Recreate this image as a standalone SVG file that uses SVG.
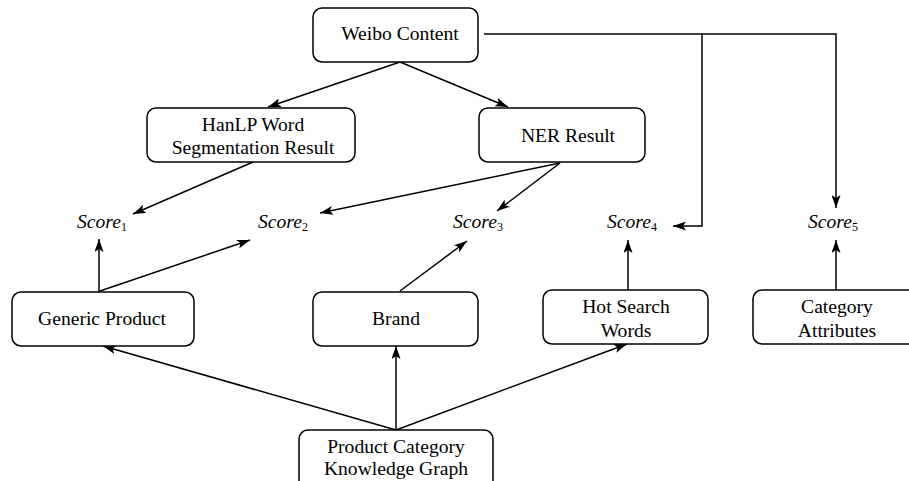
<svg xmlns="http://www.w3.org/2000/svg" width="909" height="481" viewBox="0 0 909 481">
  <style>
    .box { fill: #fff; stroke: #000; stroke-width: 1.5; }
    .lbl { font-family: "Liberation Serif", "Times New Roman", serif; font-size: 19.6px; fill: #000; text-anchor: middle; }
    .score { font-family: "Liberation Serif", "Times New Roman", serif; font-size: 19.6px; font-style: italic; fill: #000; }
    .sub { font-size: 12px; font-style: normal; }
    .edge { fill: none; stroke: #000; stroke-width: 1.5; }
  </style>
  <defs>
    <marker id="arrow" viewBox="0 0 13 9" refX="13" refY="4.5" markerWidth="13" markerHeight="9" markerUnits="userSpaceOnUse" orient="auto">
      <path d="M0,0 L13,4.5 L0,9 L3,4.5 Z" fill="#000"/>
    </marker>
  </defs>
  <rect width="909" height="481" fill="#fff"/>

  <!-- connectors -->
  <g id="connectors">
    <line class="edge" x1="400" y1="62" x2="268" y2="107" marker-end="url(#arrow)"/>
    <line class="edge" x1="400" y1="62" x2="508" y2="107" marker-end="url(#arrow)"/>
    <polyline class="edge" points="484,34 836,34 836,208" marker-end="url(#arrow)"/>
    <polyline class="edge" points="702,34 702,226 673,226" marker-end="url(#arrow)"/>
    <line class="edge" x1="253" y1="162" x2="133" y2="214" marker-end="url(#arrow)"/>
    <line class="edge" x1="560" y1="163" x2="320" y2="213" marker-end="url(#arrow)"/>
    <line class="edge" x1="560" y1="163" x2="497" y2="211" marker-end="url(#arrow)"/>
    <line class="edge" x1="99" y1="292" x2="99" y2="239" marker-end="url(#arrow)"/>
    <line class="edge" x1="100" y1="291" x2="250" y2="240" marker-end="url(#arrow)"/>
    <line class="edge" x1="400" y1="291" x2="467" y2="241" marker-end="url(#arrow)"/>
    <line class="edge" x1="628" y1="290" x2="628" y2="240" marker-end="url(#arrow)"/>
    <line class="edge" x1="836" y1="290" x2="836" y2="240" marker-end="url(#arrow)"/>
    <line class="edge" x1="396" y1="430" x2="103" y2="346" marker-end="url(#arrow)"/>
    <line class="edge" x1="396" y1="430" x2="396" y2="346" marker-end="url(#arrow)"/>
    <line class="edge" x1="396" y1="430" x2="627" y2="344" marker-end="url(#arrow)"/>
  </g>

  <!-- nodes -->
  <g id="weibo">
    <rect class="box" x="313" y="8" width="165" height="54" rx="9"/>
    <text class="lbl" x="400" y="40">Weibo Content</text>
  </g>
  <g id="hanlp">
    <rect class="box" x="147" y="108" width="208" height="54" rx="9"/>
    <text class="lbl" x="253" y="131">HanLP Word</text>
    <text class="lbl" x="253" y="154">Segmentation Result</text>
  </g>
  <g id="ner">
    <rect class="box" x="479" y="108" width="166" height="54" rx="9"/>
    <text class="lbl" x="568" y="142">NER Result</text>
  </g>

  <g id="score1"><text class="score" x="77" y="228">Score<tspan class="sub" dy="3">1</tspan></text></g>
  <g id="score2"><text class="score" x="258" y="228">Score<tspan class="sub" dy="3">2</tspan></text></g>
  <g id="score3"><text class="score" x="453" y="228">Score<tspan class="sub" dy="3">3</tspan></text></g>
  <g id="score4"><text class="score" x="607" y="228">Score<tspan class="sub" dy="3">4</tspan></text></g>
  <g id="score5"><text class="score" x="808" y="228">Score<tspan class="sub" dy="3">5</tspan></text></g>

  <g id="generic-product">
    <rect class="box" x="12" y="292" width="182" height="54" rx="9"/>
    <text class="lbl" x="102" y="325">Generic Product</text>
  </g>
  <g id="brand">
    <rect class="box" x="313" y="292" width="165" height="54" rx="9"/>
    <text class="lbl" x="396" y="325">Brand</text>
  </g>
  <g id="hot-search">
    <rect class="box" x="543" y="290" width="165" height="54" rx="9"/>
    <text class="lbl" x="626" y="313">Hot Search</text>
    <text class="lbl" x="626" y="337">Words</text>
  </g>
  <g id="category-attributes">
    <rect class="box" x="753" y="290" width="165" height="54" rx="9"/>
    <text class="lbl" x="837" y="313">Category</text>
    <text class="lbl" x="837" y="337">Attributes</text>
  </g>
  <g id="knowledge-graph">
    <rect class="box" x="299" y="430" width="194" height="64" rx="9"/>
    <text class="lbl" x="396" y="453">Product Category</text>
    <text class="lbl" x="396" y="475">Knowledge Graph</text>
  </g>
</svg>
